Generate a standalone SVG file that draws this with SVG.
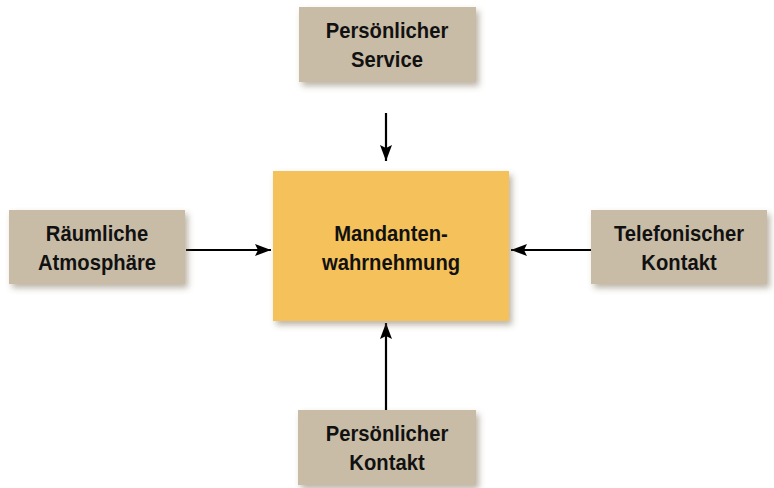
<svg xmlns="http://www.w3.org/2000/svg" width="774" height="488" viewBox="0 0 774 488">
<style>
.box{fill:#c9bca7;filter:url(#sh)}
.main{fill:#f5c15a;filter:url(#sh)}
.t{font-family:"Liberation Sans Narrow","Liberation Sans",Arial,sans-serif;font-weight:bold;font-size:22px;fill:#111;text-anchor:middle}
.c{stroke:#000;stroke-width:2.2;fill:none;marker-end:url(#ah)}
</style>
<defs>
<filter id="sh" x="-20%" y="-20%" width="150%" height="160%">
<feDropShadow dx="3" dy="4" stdDeviation="3" flood-color="#6b5a40" flood-opacity="0.45"/>
</filter>
<marker id="ah" viewBox="0 0 16 12" refX="16" refY="6" markerWidth="16" markerHeight="12" markerUnits="userSpaceOnUse" orient="auto">
<path d="M0,0 L16,6 L0,12 L3,6 Z" fill="#000"/>
</marker>
</defs>
<rect width="774" height="488" fill="#fff"/>
<g id="connectors">
<line class="c" x1="386" y1="113" x2="386" y2="161"/>
<line class="c" x1="186" y1="250" x2="271" y2="250"/>
<line class="c" x1="591" y1="250" x2="511" y2="250"/>
<line class="c" x1="386" y1="410" x2="386" y2="323"/>
</g>
<g id="mandanten">
<rect class="main" x="273" y="171" width="236" height="150"/>
<g transform="translate(391,0) scale(0.92,1)">
<text class="t" x="0" y="241">Mandanten-</text>
<text class="t" x="0" y="270">wahrnehmung</text>
</g>
</g>
<g id="service">
<rect class="box" x="299" y="7" width="177" height="75"/>
<g transform="translate(387,0) scale(0.92,1)">
<text class="t" x="0" y="38">Persönlicher</text>
<text class="t" x="0" y="67">Service</text>
</g>
</g>
<g id="atmosphaere">
<rect class="box" x="9" y="210" width="176" height="74"/>
<g transform="translate(97,0) scale(0.92,1)">
<text class="t" x="0" y="241">Räumliche</text>
<text class="t" x="0" y="270">Atmosphäre</text>
</g>
</g>
<g id="telefon">
<rect class="box" x="591" y="210" width="176" height="74"/>
<g transform="translate(679,0) scale(0.92,1)">
<text class="t" x="0" y="241">Telefonischer</text>
<text class="t" x="0" y="270">Kontakt</text>
</g>
</g>
<g id="kontakt">
<rect class="box" x="298" y="410" width="178" height="75"/>
<g transform="translate(387,0) scale(0.92,1)">
<text class="t" x="0" y="441">Persönlicher</text>
<text class="t" x="0" y="470">Kontakt</text>
</g>
</g>
</svg>
